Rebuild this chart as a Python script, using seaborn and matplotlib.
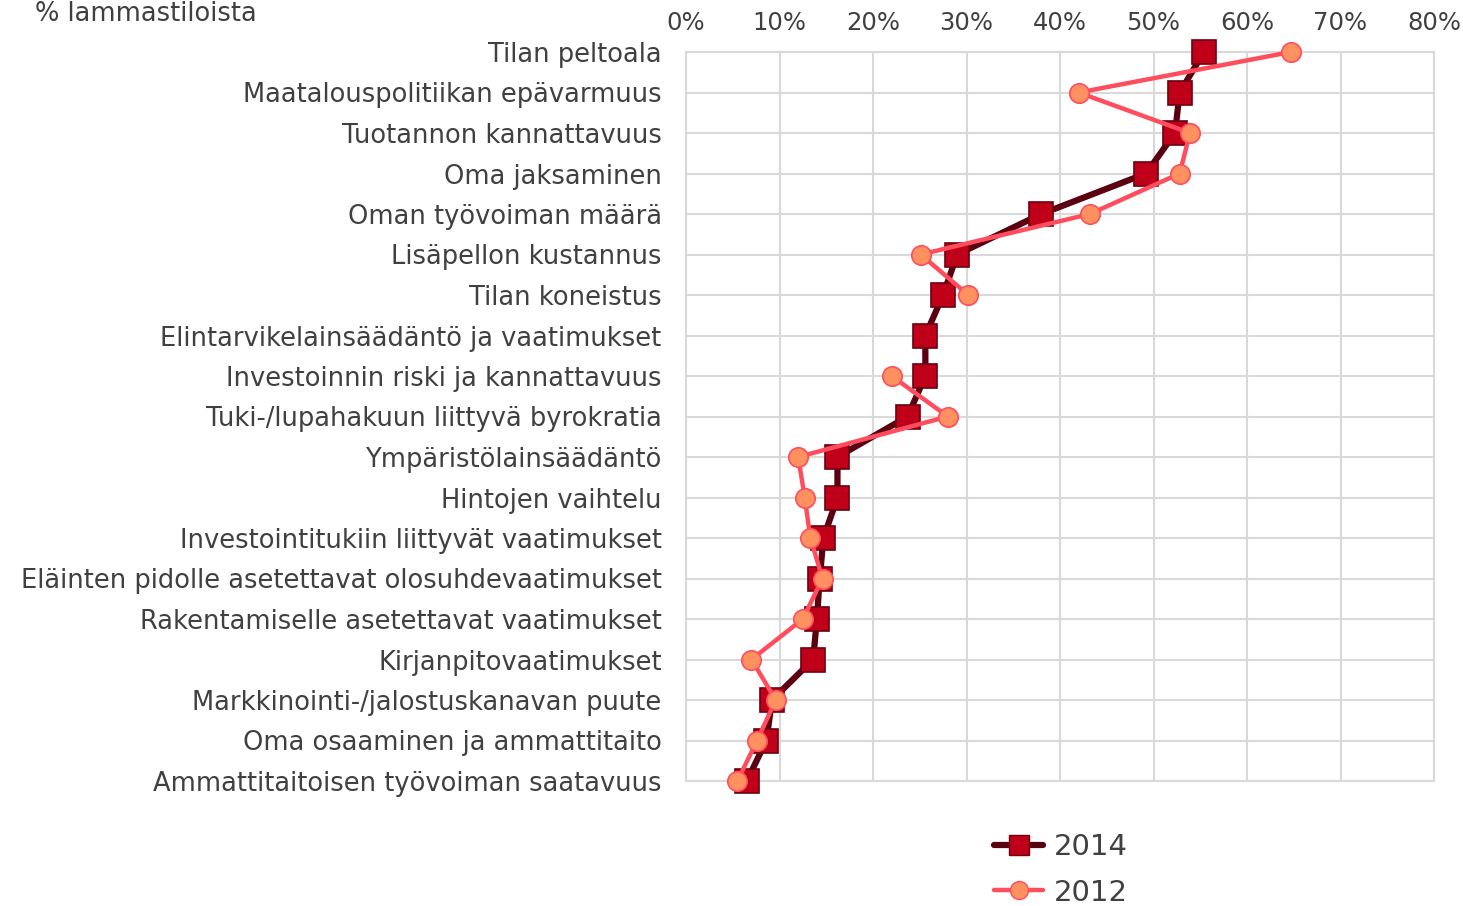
import numpy as np
import pandas as pd
import matplotlib
matplotlib.use('Agg')
import matplotlib.pyplot as plt
import seaborn as sns
from matplotlib.lines import Line2D
from matplotlib.ticker import PercentFormatter

# 数据
categories = [
    'Tilan peltoala',
    'Maatalouspolitiikan epävarmuus',
    'Tuotannon kannattavuus',
    'Oma jaksaminen',
    'Oman työvoiman määrä',
    'Lisäpellon kustannus',
    'Tilan koneistus',
    'Elintarvikelainsäädäntö ja vaatimukset',
    'Investoinnin riski ja kannattavuus',
    'Tuki-/lupahakuun liittyvä byrokratia',
    'Ympäristölainsäädäntö',
    'Hintojen vaihtelu',
    'Investointitukiin liittyvät vaatimukset',
    'Eläinten pidolle asetettavat olosuhdevaatimukset',
    'Rakentamiselle asetettavat vaatimukset',
    'Kirjanpitovaatimukset',
    'Markkinointi-/jalostuskanavan puute',
    'Oma osaaminen ja ammattitaito',
    'Ammattitaitoisen työvoiman saatavuus',
]
values_2014 = [55.4, 52.8, 52.3, 49.2, 38.0, 29.0, 27.5, 25.6, 25.6, 23.7,
               16.2, 16.2, 14.7, 14.3, 14.0, 13.6, 9.2, 8.6, 6.5]
# 2012: Elintarvikelainsäädäntö puuttuu
values_2012 = [64.7, 42.0, 53.9, 52.8, 43.2, 25.1, 30.2, np.nan, 22.0, 28.0,
               12.0, 12.7, 13.3, 14.6, 12.5, 7.0, 9.6, 7.6, 5.5]
x_ticks = [0, 10, 20, 30, 40, 50, 60, 70, 80]
corner_text = '% lammastiloista'

text_color = '#404040'
c14_line, c14_face, c14_edge = '#5a0010', '#c00018', '#6a0010'
c12_line, c12_face = '#ff4d5e', '#ff9060'

pos = np.arange(len(categories))
df14 = pd.DataFrame({'pos': pos, 'value': values_2014, 'seg': 0})
df12 = pd.DataFrame({'pos': pos, 'value': values_2012})
df12['seg'] = (df12['pos'] > 7).astype(int)  # katkos puuttuvan arvon kohdalla
df12 = df12.dropna()

sns.set_style('white')
plt.rcParams['font.family'] = ['DejaVu Sans']

fig = plt.figure(figsize=(14.63, 9.06), dpi=100)
ax = fig.add_axes([686 / 1463, 1 - 781 / 906, (1434 - 686) / 1463, (781 - 52) / 906])

sns.lineplot(data=df14, x='value', y='pos', units='seg', estimator=None, sort=False,
             color=c14_line, linewidth=4.5, marker='s', markersize=17,
             markerfacecolor=c14_face, markeredgecolor=c14_edge, markeredgewidth=1.2,
             ax=ax, clip_on=False, zorder=3)
sns.lineplot(data=df12, x='value', y='pos', units='seg', estimator=None, sort=False,
             color=c12_line, linewidth=3.2, marker='o', markersize=14,
             markerfacecolor=c12_face, markeredgecolor=c12_line, markeredgewidth=1.2,
             ax=ax, clip_on=False, zorder=4)

ax.set_xlim(0, 80)
ax.set_ylim(len(categories) - 1, 0)
ax.set_xticks(x_ticks)
ax.xaxis.set_major_formatter(PercentFormatter(decimals=0))
ax.xaxis.tick_top()
ax.set_yticks(pos)
ax.set_yticklabels(categories)
ax.tick_params(axis='x', labelsize=17.5, colors=text_color, length=0, pad=12)
ax.tick_params(axis='y', labelsize=18.5, colors=text_color, length=0, pad=17.5)
ax.set_xlabel('')
ax.set_ylabel('')
ax.grid(True, color='#d9d9d9', linewidth=1.5)
ax.set_axisbelow(True)
for s in ax.spines.values():
    s.set_color('#d9d9d9')
    s.set_linewidth(1.5)
if ax.get_legend() is not None:
    ax.get_legend().remove()

handles = [
    Line2D([], [], color=c14_line, linewidth=4.5, marker='s', markersize=15,
           markerfacecolor=c14_face, markeredgecolor=c14_edge),
    Line2D([], [], color=c12_line, linewidth=3.2, marker='o', markersize=13,
           markerfacecolor=c12_face, markeredgecolor=c12_line),
]
fig.legend(handles, ['2014', '2012'], loc='center', bbox_to_anchor=(0.725, 0.04),
           frameon=False, fontsize=21, labelcolor=text_color, handlelength=1.7,
           handletextpad=0.35, labelspacing=0.6)

fig.text(35 / 1463, 1 - 1 / 906, corner_text, fontsize=18.5, color=text_color,
         va='top', ha='left')

plt.savefig('out.png', dpi=100, facecolor='white')
plt.close()
